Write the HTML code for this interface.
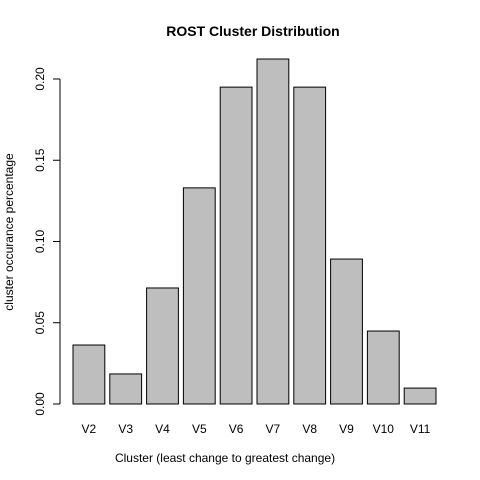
<!DOCTYPE html>
<html><head><meta charset="utf-8"><style>body{margin:0;background:#fff}svg{display:block}text{font-family:"Liberation Sans",Arial,sans-serif;font-size:12px;fill:#000}</style></head>
<body>
<svg width="480" height="480">
<text x="253" y="36" text-anchor="middle" style="font-weight:bold;font-size:14px">ROST Cluster Distribution</text>
<text x="225" y="462" text-anchor="middle">Cluster (least change to greatest change)</text>
<text transform="translate(13,232) rotate(-90)" text-anchor="middle">cluster occurance percentage</text>
<g id="bars"></g><g id="yaxis"></g>
</svg>
<script>
const categories=["V2","V3","V4","V5","V6","V7","V8","V9","V10","V11"];
const values=[0.0363,0.0185,0.0714,0.133,0.195,0.2123,0.195,0.0892,0.0449,0.0098];
const yTicks=[0,0.05,0.10,0.15,0.20];
const yTickLabels=["0.00","0.05","0.10","0.15","0.20"];
const NS="http://www.w3.org/2000/svg";
const y=v=>404-v*1625;
const period=36.8,bw=31.8,x0=73;
const bars=document.getElementById('bars');
categories.forEach((c,i)=>{
 const r=document.createElementNS(NS,'rect');
 r.setAttribute('x',x0+i*period);r.setAttribute('y',y(values[i]));
 r.setAttribute('width',bw);r.setAttribute('height',404-y(values[i]));
 r.setAttribute('fill','#bebebe');r.setAttribute('stroke','#000');
 
 
 bars.appendChild(r);
 const t=document.createElementNS(NS,'text');
 t.setAttribute('x',x0+i*period+bw/2);t.setAttribute('y',433);
 t.setAttribute('text-anchor','middle');t.textContent=c;
 
 
 bars.appendChild(t);
});
const ya=document.getElementById('yaxis');
const l=document.createElementNS(NS,'line');
l.setAttribute('x1',60);l.setAttribute('x2',60);l.setAttribute('y1',y(yTicks[0]));l.setAttribute('y2',y(yTicks[yTicks.length-1]));l.setAttribute('stroke','#000');


ya.appendChild(l);
yTicks.forEach((v,i)=>{
 const tk=document.createElementNS(NS,'line');
 tk.setAttribute('x1',53);tk.setAttribute('x2',60);tk.setAttribute('y1',y(v));tk.setAttribute('y2',y(v));tk.setAttribute('stroke','#000');
 
 
 ya.appendChild(tk);
 const t=document.createElementNS(NS,'text');
 t.setAttribute('transform','translate(44,'+y(v)+') rotate(-90)');
 t.setAttribute('text-anchor','middle');t.textContent=yTickLabels[i];
 
 
 ya.appendChild(t);
});
</script>
</body></html>
